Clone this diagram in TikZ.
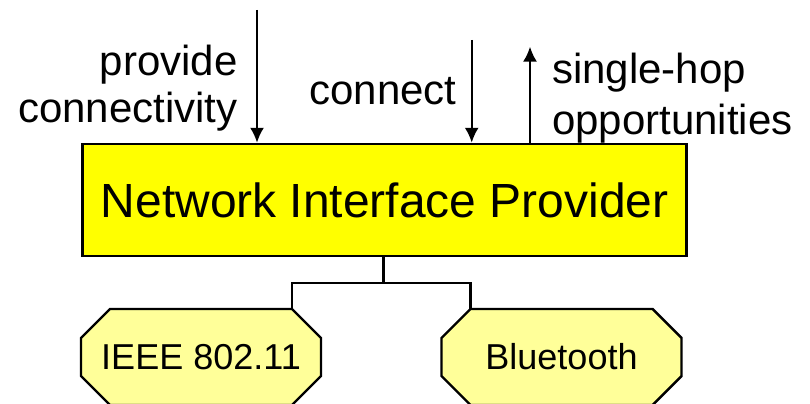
\documentclass[tikz,border=0pt]{standalone}
\usepackage{fontspec}
\setmainfont{Liberation Sans}
\usetikzlibrary{arrows.meta}
\definecolor{npiyellow}{HTML}{FFFF00}
\definecolor{ifyellow}{HTML}{FFFF99}

\begin{document}
\begin{tikzpicture}[x=0.02cm, y=-0.02cm,
    provider/.style={draw, line width=1.5pt, fill=npiyellow, minimum width=12.08cm,
        minimum height=2.24cm, inner sep=0pt, font=\fontsize{27.3pt}{30pt}\selectfont},
    iface/.style={minimum width=4.8cm, minimum height=1.92cm, inner sep=0pt,
        font=\fontsize{20.5pt}{24pt}\selectfont},
    ifshape/.style={draw, line width=1.4pt, fill=ifyellow, line join=miter},
    label/.style={inner sep=0pt, font=\fontsize{23.9pt}{26.6pt}\selectfont},
    flow/.style={line width=1.2pt, -{Latex[length=8.5pt,width=8pt]}},
    link/.style={line width=1.5pt}]
    \useasboundingbox (0, 0) rectangle (810, 404);

    \node[provider] (npi) at (384.7, 200) {Network Interface Provider};
    \foreach \name/\xc/\txt in {ieee/201/IEEE 802.11, bt/561.5/Bluetooth} {
        \draw[ifshape] (\xc-91, 309) -- (\xc+91, 309) -- (\xc+120, 338) -- (\xc+120, 376)
            -- (\xc+91, 405) -- (\xc-91, 405) -- (\xc-120, 376) -- (\xc-120, 338) -- cycle;
        \node[iface] (\name) at (\xc, 357) {\txt};
    }

    \coordinate (in1) at (257, 10);
    \coordinate (in2) at (471.7, 40);
    \coordinate (out1) at (530, 46.7);
    \coordinate (fork) at (383.3, 283);

    \draw[flow] (in1) -- (in1 |- npi.north);
    \draw[flow] (in2) -- (in2 |- npi.north);
    \draw[flow] (out1 |- npi.north) -- (out1);

    \draw[link] (fork |- npi.south) -- (fork);
    \draw[link] ([xshift=1.82cm]ieee.north) |- (fork) -| ([xshift=-1.82cm]bt.north);

    \node[label, anchor=base east, align=right] (prov) at (238, 122.7) {provide\\connectivity};
    \node[label, anchor=base east] (conn) at (457, 105) {connect};
    \node[label, anchor=base west, align=left, font=\fontsize{23.9pt}{29.4pt}\selectfont]
        (hop) at (551.7, 135) {single-hop\\opportunities};
\end{tikzpicture}
\end{document}
